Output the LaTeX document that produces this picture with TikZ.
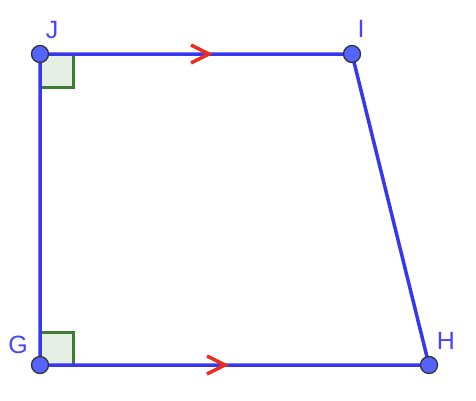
\documentclass[tikz,border=0pt]{standalone}
\usepackage{fontspec}
\setmainfont{Liberation Sans}
\usepackage{tikz}

\definecolor{lineblue}{RGB}{55,55,240}
\definecolor{dotblue}{RGB}{85,100,255}
\definecolor{labelblue}{RGB}{70,70,255}
\definecolor{anglegreen}{RGB}{60,125,50}
\definecolor{anglefill}{RGB}{228,238,226}
\definecolor{chevred}{RGB}{235,45,30}

\tikzset{
	pt/.style={circle,draw=black!80,fill=dotblue,line width=1.3pt,inner sep=0pt,minimum size=17pt},
	lbl/.style={text=labelblue,font=\fontsize{25}{25}\selectfont,inner sep=0pt},
	side/.style={draw=lineblue,line width=3.5pt},
	rightangle/.style={draw=anglegreen,fill=anglefill,line width=3pt},
	chev/.style={draw=chevred,line width=3.5pt}
}

\begin{document}
\begin{tikzpicture}[x=1pt,y=-1pt]
	\useasboundingbox (0,0) rectangle (476,400);
	\coordinate (J) at (40,54);
	\coordinate (I) at (352,54);
	\coordinate (H) at (429,365);
	\coordinate (G) at (40,365);
	\draw[rightangle] (J) rectangle ++(33,33);
	\draw[rightangle] (G) rectangle ++(33,-33);
	\draw[side] (J) -- (I) -- (H) -- (G) -- cycle;
	\draw[chev] (191,45) -- (209,54) -- (191,63);
	\draw[chev] (207,356) -- (225,365) -- (207,374);
	\node[pt] (Jpt) at (J) {};
	\node[pt] (Ipt) at (I) {};
	\node[pt] (Hpt) at (H) {};
	\node[pt] (Gpt) at (G) {};
	\node[lbl] (Jlabel) at (52,30) {J};
	\node[lbl] (Ilabel) at (361,29) {I};
	\node[lbl] (Hlabel) at (446,341) {H};
	\node[lbl] (Glabel) at (18,345) {G};
\end{tikzpicture}
\end{document}
